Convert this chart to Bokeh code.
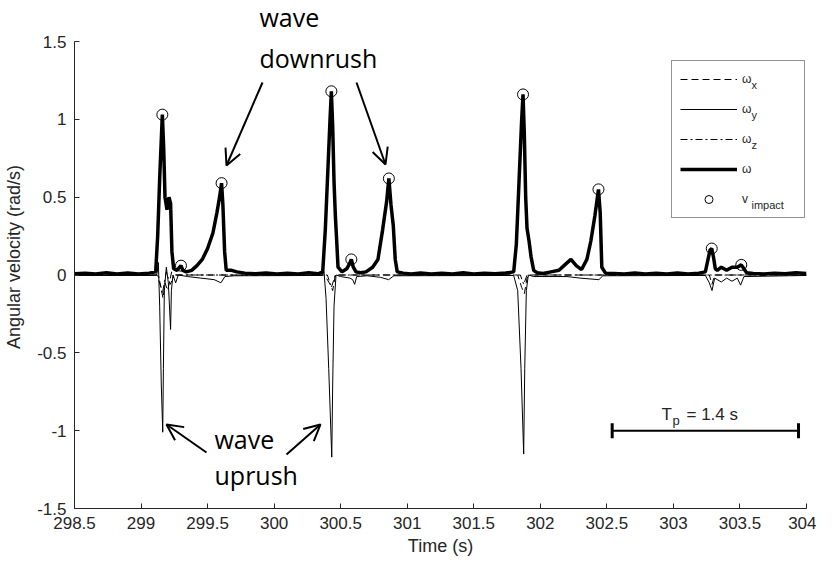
from bokeh.plotting import figure
from bokeh.models import (Range1d, FixedTicker, Legend, LegendItem, Label, Arrow,
                          OpenHead, TeeHead)
from bokeh.embed import file_html
from bokeh.resources import INLINE

# ---------------- data ----------------
omega_pts = [
    (298.50, 0.008), (298.58, 0.012), (298.66, 0.006), (298.74, 0.014), (298.82, 0.007),
    (298.90, 0.013), (298.98, 0.006), (299.06, 0.012), (299.11, 0.02),
    (299.125, 0.25), (299.14, 0.62), (299.16, 1.03), (299.17, 0.82), (299.18, 0.5),
    (299.195, 0.42), (299.21, 0.5), (299.222, 0.46), (299.232, 0.15), (299.245, 0.04),
    (299.27, 0.03), (299.29, 0.05), (299.30, 0.06), (299.315, 0.03), (299.34, 0.02),
    (299.38, 0.03), (299.42, 0.06), (299.46, 0.10), (299.50, 0.17), (299.54, 0.27),
    (299.57, 0.40), (299.59, 0.50), (299.605, 0.59), (299.615, 0.45), (299.628, 0.15),
    (299.64, 0.03), (299.68, 0.03), (299.72, 0.02), (299.78, 0.012),
    (299.86, 0.008), (299.94, 0.013), (300.02, 0.006), (300.10, 0.012), (300.18, 0.007),
    (300.26, 0.014), (300.33, 0.008), (300.365, 0.02),
    (300.385, 0.30), (300.405, 0.70), (300.42, 1.0), (300.43, 1.18), (300.44, 0.95),
    (300.45, 0.60), (300.46, 0.38), (300.47, 0.22), (300.48, 0.05), (300.51, 0.02),
    (300.545, 0.04), (300.565, 0.07), (300.58, 0.10), (300.595, 0.05), (300.615, 0.02),
    (300.65, 0.015), (300.69, 0.02),
    (300.74, 0.05), (300.78, 0.10), (300.815, 0.29), (300.845, 0.47), (300.862, 0.62),
    (300.878, 0.45), (300.895, 0.32), (300.91, 0.10), (300.925, 0.02), (300.97, 0.012),
    (301.03, 0.007), (301.10, 0.013), (301.18, 0.006), (301.26, 0.012), (301.34, 0.007),
    (301.42, 0.014), (301.50, 0.006), (301.58, 0.012), (301.66, 0.008), (301.74, 0.013),
    (301.80, 0.02),
    (301.82, 0.20), (301.84, 0.60), (301.86, 1.0), (301.87, 1.16), (301.88, 0.90),
    (301.89, 0.50), (301.90, 0.30), (301.915, 0.22), (301.93, 0.12), (301.95, 0.03),
    (301.975, 0.015), (302.02, 0.01), (302.08, 0.02),
    (302.14, 0.03), (302.19, 0.07), (302.23, 0.10), (302.27, 0.06), (302.31, 0.035),
    (302.35, 0.10), (302.38, 0.22), (302.41, 0.38), (302.437, 0.55), (302.45, 0.40),
    (302.462, 0.05), (302.49, 0.012), (302.55, 0.01),
    (302.63, 0.007), (302.71, 0.013), (302.79, 0.006), (302.87, 0.012), (302.95, 0.007),
    (303.03, 0.013), (303.11, 0.006), (303.19, 0.012), (303.24, 0.02),
    (303.26, 0.10), (303.275, 0.16), (303.288, 0.17), (303.30, 0.12), (303.315, 0.04),
    (303.33, 0.03), (303.36, 0.05), (303.40, 0.03), (303.44, 0.05), (303.48, 0.05),
    (303.51, 0.065), (303.53, 0.04), (303.55, 0.015), (303.60, 0.01),
    (303.68, 0.007), (303.76, 0.012), (303.84, 0.008), (303.92, 0.014), (304.00, 0.01),
]

omega_y_pts = [
    (298.50, -0.003), (299.10, -0.003), (299.118, 0.0), (299.13, 0.08), (299.14, -0.2),
    (299.152, -0.7), (299.163, -1.01), (299.168, -0.6), (299.175, -0.1), (299.19, 0.05),
    (299.205, -0.05), (299.222, -0.35), (299.228, -0.1), (299.24, 0.0), (299.26, -0.05),
    (299.28, 0.0), (299.35, -0.01), (299.45, -0.02), (299.55, -0.03), (299.60, -0.05),
    (299.63, -0.01), (299.70, -0.005), (300.36, -0.003), (300.375, 0.02), (300.39, -0.15),
    (300.41, -0.6), (300.433, -1.17), (300.44, -0.7), (300.45, -0.2), (300.465, 0.0),
    (300.50, -0.01), (300.57, -0.02), (300.59, -0.03), (300.605, -0.06), (300.62, -0.01),
    (300.70, -0.005), (300.80, -0.015), (300.86, -0.03), (300.90, -0.005), (301.80, -0.003),
    (301.83, -0.1), (301.855, -0.6), (301.875, -1.15), (301.883, -0.6), (301.895, -0.1),
    (301.91, 0.0), (301.95, -0.01), (302.20, -0.01), (302.30, -0.02), (302.44, -0.03),
    (302.47, -0.005), (303.24, -0.003), (303.27, -0.05), (303.29, -0.1), (303.31, -0.02),
    (303.36, -0.045), (303.40, -0.02), (303.44, -0.04), (303.48, -0.02), (303.505, -0.065),
    (303.53, -0.01), (304.00, -0.003),
]

omega_x_pts = [
    (298.50, 0.0), (299.12, 0.0), (299.15, -0.08), (299.165, -0.15), (299.18, -0.05),
    (299.20, -0.1), (299.23, 0.02), (299.26, 0.0), (300.38, 0.0), (300.42, -0.06),
    (300.44, -0.1), (300.46, 0.0), (301.83, 0.0), (301.86, -0.08), (301.88, -0.12),
    (301.90, -0.02), (301.92, 0.0), (303.27, 0.0), (303.29, -0.06), (303.31, 0.0),
    (304.00, 0.0),
]

omega_z_pts = [
    (298.50, 0.0), (299.13, 0.0), (299.16, -0.12), (299.19, 0.02), (299.22, -0.06),
    (299.25, 0.0), (300.40, 0.0), (300.43, -0.08), (300.46, 0.0), (301.85, 0.0),
    (301.875, -0.06), (301.90, 0.0), (304.00, 0.0),
]

impact_t = [299.16, 299.30, 299.605, 300.43, 300.58, 300.862, 301.87, 302.437, 303.288, 303.51]
impact_v = [1.03, 0.06, 0.59, 1.18, 0.10, 0.62, 1.16, 0.55, 0.17, 0.065]

x_ticks = [298.5, 299, 299.5, 300, 300.5, 301, 301.5, 302, 302.5, 303, 303.5, 304]
x_tick_labels = ["298.5", "299", "299.5", "300", "300.5", "301", "301.5", "302",
                 "302.5", "303", "303.5", "304"]
y_ticks = [-1.5, -1, -0.5, 0, 0.5, 1, 1.5]
y_tick_labels = ["-1.5", "-1", "-0.5", "0", "0.5", "1", "1.5"]

tp_start = 302.54
tp_value = 1.4
tp_level = -1.0

# ---------------- figure ----------------
AX = "#262626"
FONT = "Liberation Sans"
X0, X1, Y0, Y1 = 298.5, 304.0, -1.5, 1.5

# reference geometry (page pixels) of the axes box
PL, PR, PT, PB = 75, 807, 42, 509
FRAME_TOP = 6  # frame extends above the axis top so that the top annotation is visible
Y_TOP = Y1 + (PT - FRAME_TOP) * (Y1 - Y0) / (PB - PT)

p = figure(width=816, height=560, output_backend="svg", toolbar_location=None,
           x_range=Range1d(X0, X1), y_range=Range1d(Y0, Y_TOP),
           min_border_left=74, min_border_right=10, min_border_top=5, min_border_bottom=52)
p.outline_line_color = None
p.xgrid.visible = False
p.ygrid.visible = False
p.background_fill_color = "white"
p.border_fill_color = "white"


def dx(px):
    return X0 + (px - PL) * (X1 - X0) / (PR - PL)


def dy(py):
    return Y1 - (py - PT) * (Y1 - Y0) / (PB - PT)


for ax in (p.xaxis[0], p.yaxis[0]):
    ax.axis_line_color = AX
    ax.major_tick_line_color = AX
    ax.major_tick_in = 5
    ax.major_tick_out = 0
    ax.minor_tick_line_color = None
    ax.major_label_text_color = AX
    ax.major_label_text_font = FONT
    ax.major_label_text_font_size = "17px"
    ax.axis_label_text_color = AX
    ax.axis_label_text_font = FONT
    ax.axis_label_text_font_size = "18px"
    ax.axis_label_text_font_style = "normal"
    ax.major_label_standoff = 8

p.yaxis.bounds = (Y0, Y1)
p.xaxis.ticker = FixedTicker(ticks=x_ticks)
p.xaxis.major_label_overrides = dict(zip(x_ticks, x_tick_labels))
p.yaxis.ticker = FixedTicker(ticks=y_ticks)
p.yaxis.major_label_overrides = dict(zip(y_ticks, y_tick_labels))
p.xaxis.axis_label = "Time (s)"
p.yaxis.axis_label = "Angular velocity (rad/s)"
p.xaxis.axis_label_standoff = 4
p.yaxis.axis_label_standoff = 10


def unzip(pts):
    return [a for a, _ in pts], [b for _, b in pts]


tx, vx = unzip(omega_x_pts)
ty, vy = unzip(omega_y_pts)
tz, vz = unzip(omega_z_pts)
tw, vw = unzip(omega_pts)

r_w = p.line(tw, vw, line_color="black", line_width=3.5)
r_x = p.line(tx, vx, line_color="black", line_width=1, line_dash="7 4")
r_z = p.line(tz, vz, line_color="black", line_width=1, line_dash="7 3 2 3")
r_y = p.line(ty, vy, line_color="black", line_width=1)
r_c = p.scatter(impact_t, impact_v, marker="circle", size=11, fill_color=None,
                line_color="black", line_width=1)

legend = Legend(items=[
    LegendItem(label="ω", renderers=[r_x]),
    LegendItem(label="ω", renderers=[r_y]),
    LegendItem(label="ω", renderers=[r_z]),
    LegendItem(label="ω", renderers=[r_w]),
    LegendItem(label="v", renderers=[r_c]),
], location=(597, 290), margin=0, padding=8, spacing=10,
    glyph_width=57, glyph_height=20, label_height=20, label_width=54, label_standoff=5,
    label_text_font=FONT, label_text_font_size="12px", label_text_color=AX,
    border_line_color=AX, border_line_width=1, background_fill_alpha=0.0)
p.add_layout(legend, "center")

# legend subscripts
sub_rows = [("x", 80), ("y", 110), ("z", 140), ("impact", 200)]
for txt, row in sub_rows:
    p.add_layout(Label(x=dx(752), y=dy(row + 5), text=txt, text_font=FONT,
                       text_font_size="11px", text_color=AX, text_baseline="middle",
                       level="overlay"))

# annotation texts
ANN_FONT = "Open Sans"
for txt, px, py in [("wave", 260, 17), ("downrush", 260, 58), ("wave", 215, 439), ("uprush", 215, 475)]:
    p.add_layout(Label(x=dx(px), y=dy(py), text=txt, text_font=ANN_FONT,
                       text_font_size="25px", text_color="black", text_baseline="alphabetic"))

# arrows
for (sx, sy, ex, ey) in [(263, 83, 227, 166), (357, 83, 386, 165),
                         (207, 453, 167, 425), (287, 455, 321, 425)]:
    p.add_layout(Arrow(end=OpenHead(size=16, line_width=2, line_color="black"),
                       x_start=dx(sx), y_start=dy(sy), x_end=dx(ex), y_end=dy(ey),
                       line_width=2, line_color="black"))

# T_p scale bar
p.add_layout(Arrow(start=TeeHead(size=15, line_width=3, line_color="black"),
                   end=TeeHead(size=15, line_width=3, line_color="black"),
                   x_start=tp_start, x_end=tp_start + tp_value, y_start=tp_level, y_end=tp_level,
                   line_width=2, line_color="black"))
p.add_layout(Label(x=dx(662), y=dy(415), text="T", text_font=FONT, text_font_size="17px",
                   text_color=AX, text_baseline="alphabetic"))
p.add_layout(Label(x=dx(673), y=dy(421), text="p", text_font=FONT, text_font_size="13px",
                   text_color=AX, text_baseline="alphabetic"))
p.add_layout(Label(x=dx(687), y=dy(415), text="= %.1f s" % tp_value, text_font=FONT,
                   text_font_size="17px", text_color=AX, text_baseline="alphabetic"))

open("out.html", "w").write(file_html(p, INLINE))
